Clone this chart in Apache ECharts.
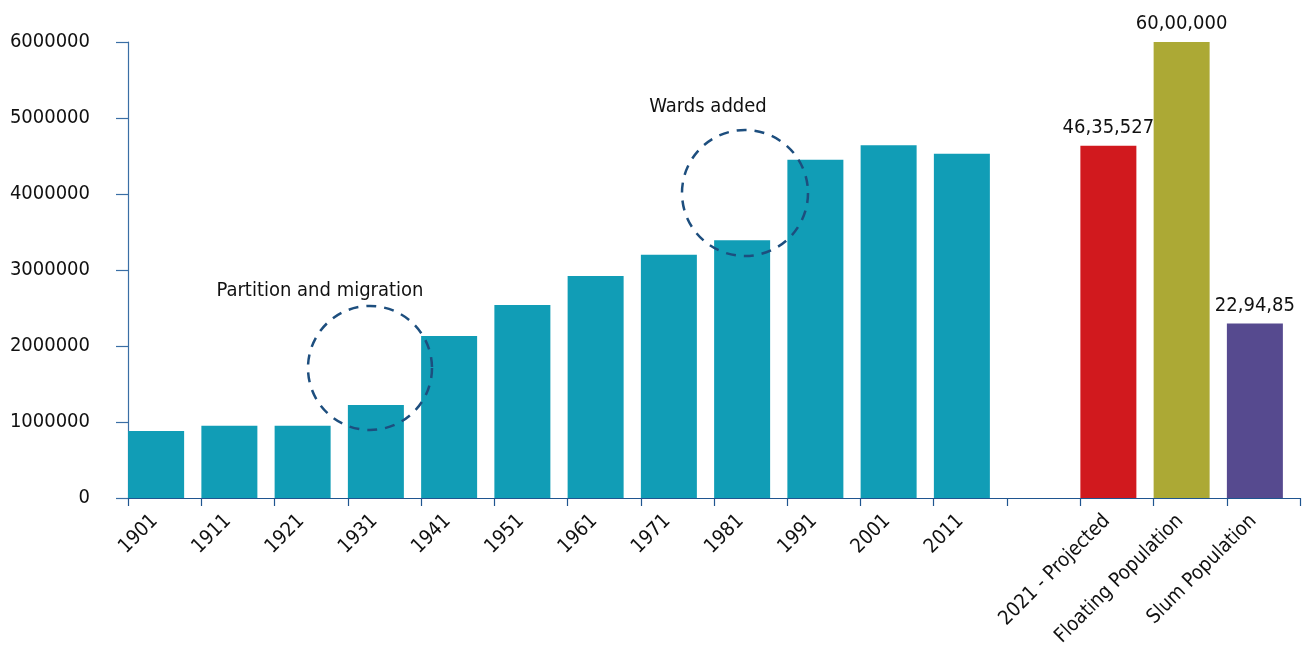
<!DOCTYPE html>
<html>
<head>
<meta charset="utf-8">
<script src="https://cdn.jsdelivr.net/npm/echarts@6/dist/echarts.min.js"></script>
<style>
  html, body { margin: 0; padding: 0; background: #ffffff; }
  #chart { width: 1308px; height: 652px; }
</style>
</head>
<body>
<div id="chart"></div>
<script>
// ---- data ----
const categories = ['1901', '1911', '1921', '1931', '1941', '1951', '1961', '1971', '1981', '1991', '2001', '2011', '', '2021 - Projected', 'Floating Population', 'Slum Population'];
const population = [880000, 950000, 950000, 1225000, 2130000, 2540000, 2920000, 3200000, 3390000, 4450000, 4640000, 4530000, null, 4635527, 6000000, 2294850];
const valueLabels = ['', '', '', '', '', '', '', '', '', '', '', '', '', '46,35,527', '60,00,000', '22,94,85'];
const barColors = ['#119db6', '#119db6', '#119db6', '#119db6', '#119db6', '#119db6', '#119db6', '#119db6', '#119db6', '#119db6', '#119db6', '#119db6', '#119db6', '#d1191e', '#aca935', '#564a8f'];
const yMin = 0, yMax = 6000000, yInterval = 1000000;
const annotations = ['Partition and migration', 'Wards added'];

// ---- chart ----
const FONT = "'DejaVu Sans Condensed', 'Roboto', sans-serif";
const chart = echarts.init(document.getElementById('chart'), null, { renderer: 'canvas' });

const barData = population.map((v, i) => ({
  value: v,
  itemStyle: { color: barColors[i] },
  label: { show: !!valueLabels[i], formatter: valueLabels[i] }
}));

const option = {
  backgroundColor: '#ffffff',
  animation: false,
  grid: { left: 128, right: 8, top: 42, bottom: 154, containLabel: false, outerBoundsMode: 'none' },
  xAxis: {
    type: 'category',
    data: categories,
    boundaryGap: true,
    axisLine: { show: true, lineStyle: { color: '#1f5590', width: 1.2 } },
    axisTick: { show: true, length: 8, lineStyle: { color: '#1f5590', width: 1.2 } },
    axisLabel: {
      interval: 0, rotate: 45, margin: 10,
      padding: [0, 14, 0, 0],
      fontFamily: FONT, fontSize: 20, color: '#111111'
    },
    splitLine: { show: false }
  },
  yAxis: {
    type: 'value',
    min: yMin, max: yMax, interval: yInterval,
    axisLine: { show: true, lineStyle: { color: '#3a6ea5', width: 1.2 } },
    axisTick: { show: true, length: 12, lineStyle: { color: '#3a6ea5', width: 1.2 } },
    axisLabel: {
      margin: 38, fontFamily: FONT, fontSize: 20, color: '#111111',
      formatter: v => String(v)
    },
    splitLine: { show: false }
  },
  series: [
    {
      type: 'bar',
      data: barData,
      barWidth: 56,
      barGap: '0%',
      label: {
        position: 'top', distance: 8,
        fontFamily: FONT, fontSize: 20, color: '#111111'
      }
    },
    {
      type: 'bar',
      data: population.map(() => null),
      barWidth: 17,
      barGap: '0%',
      silent: true,
      itemStyle: { color: 'rgba(0,0,0,0)' }
    }
  ],
  graphic: [
    { type: 'circle', shape: { cx: 370, cy: 368, r: 62 }, style: { fill: 'none', stroke: '#1d4e7e', lineWidth: 2.5, lineDash: [10, 8] }, z: 100 },
    { type: 'circle', shape: { cx: 745, cy: 193, r: 63 }, style: { fill: 'none', stroke: '#1d4e7e', lineWidth: 2.5, lineDash: [10, 8] }, z: 100 },
    { type: 'text', x: 320, y: 291, style: { text: annotations[0], font: "20px " + FONT, fill: '#111111', textAlign: 'center', textVerticalAlign: 'middle' }, z: 100 },
    { type: 'text', x: 708, y: 107, style: { text: annotations[1], font: "20px " + FONT, fill: '#111111', textAlign: 'center', textVerticalAlign: 'middle' }, z: 100 }
  ]
};
chart.setOption(option);
</script>
</body>
</html>
